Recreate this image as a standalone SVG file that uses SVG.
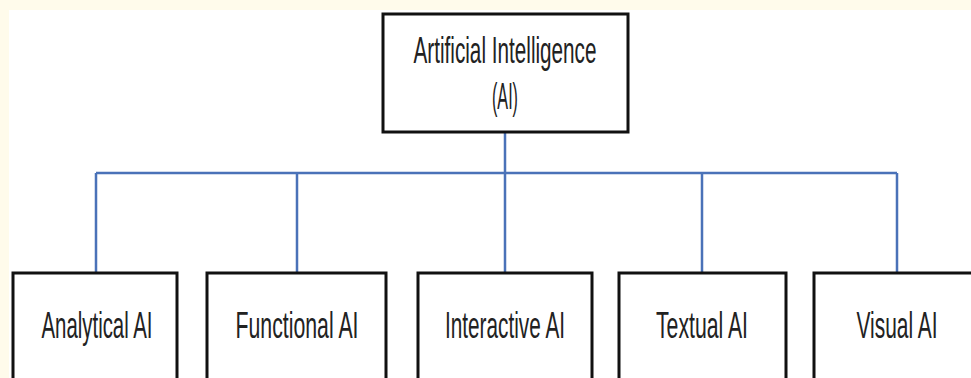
<svg xmlns="http://www.w3.org/2000/svg" width="971" height="378" viewBox="0 0 971 378">
<style>
.box{fill:#ffffff;stroke:#111111;stroke-width:3}
.lbl{font-family:"Liberation Sans",Arial,sans-serif;font-size:36px;fill:#222222;text-anchor:middle}
.con{fill:none;stroke:#4a72b8;stroke-width:2.5}
</style>
<rect x="0" y="0" width="971" height="378" fill="#ffffff"/>
<rect x="0" y="0" width="971" height="10" fill="#fffbeb"/>
<rect x="0" y="0" width="9" height="378" fill="#fffbeb"/>
<g id="connectors">
<path class="con" d="M505 132 V173 M96 173 H897 M96 173 V273 M297 173 V273 M505 173 V273 M702 173 V273 M897 173 V273"/>
</g>
<g id="root">
<rect class="box" x="383" y="14" width="245" height="118"/>
<text class="lbl" x="505" y="63" textLength="183" lengthAdjust="spacingAndGlyphs">Artificial Intelligence</text>
<text class="lbl" x="505" y="109" textLength="26" lengthAdjust="spacingAndGlyphs">(AI)</text>
</g>
<g id="analytical">
<rect class="box" x="13" y="273" width="164" height="120"/>
<text class="lbl" x="97" y="338" textLength="111" lengthAdjust="spacingAndGlyphs">Analytical AI</text>
</g>
<g id="functional">
<rect class="box" x="207" y="273" width="179" height="120"/>
<text class="lbl" x="297" y="338" textLength="123" lengthAdjust="spacingAndGlyphs">Functional AI</text>
</g>
<g id="interactive">
<rect class="box" x="418" y="273" width="174" height="120"/>
<text class="lbl" x="505" y="338" textLength="120" lengthAdjust="spacingAndGlyphs">Interactive AI</text>
</g>
<g id="textual">
<rect class="box" x="619" y="273" width="167" height="120"/>
<text class="lbl" x="702" y="338" textLength="92" lengthAdjust="spacingAndGlyphs">Textual AI</text>
</g>
<g id="visual">
<rect class="box" x="814" y="273" width="180" height="120"/>
<text class="lbl" x="897" y="338" textLength="81" lengthAdjust="spacingAndGlyphs">Visual AI</text>
</g>
</svg>
